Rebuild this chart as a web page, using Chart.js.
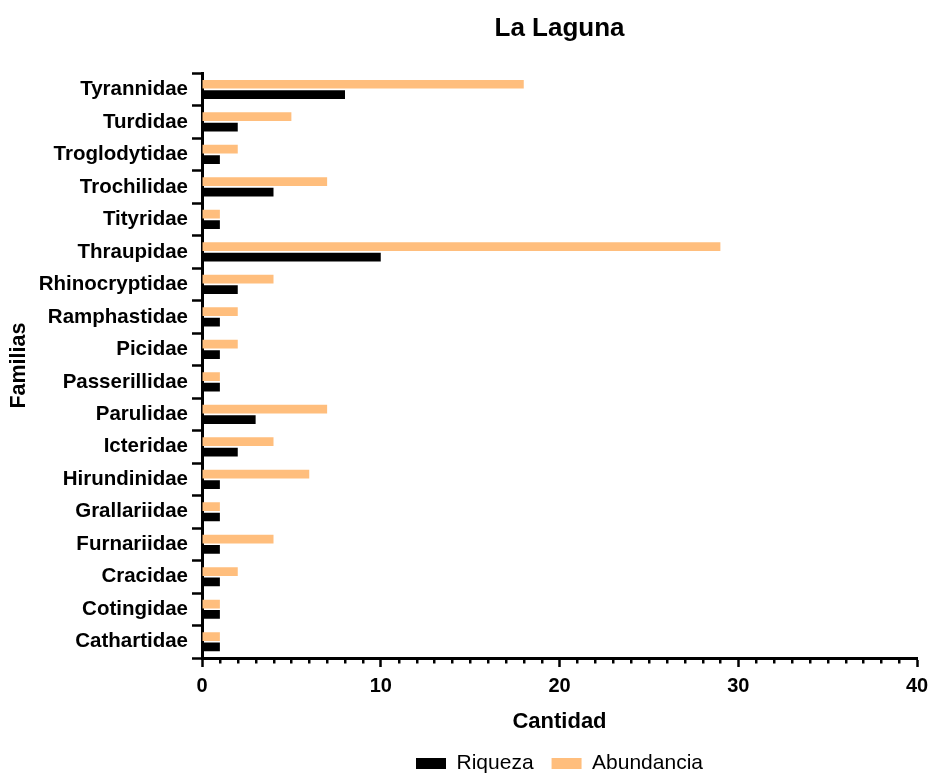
<!DOCTYPE html>
<html>
<head>
<meta charset="utf-8">
<script src="https://cdn.jsdelivr.net/npm/chart.js@4.4.1/dist/chart.umd.min.js"></script>
<style>
  html, body { margin: 0; padding: 0; background: #ffffff; }
  #wrap { width: 930px; height: 776px; }
</style>
</head>
<body>
<div id="wrap"><canvas id="c" width="930" height="776"></canvas></div>
<script>
const families = ["Tyrannidae", "Turdidae", "Troglodytidae", "Trochilidae", "Tityridae", "Thraupidae",
  "Rhinocryptidae", "Ramphastidae", "Picidae", "Passerillidae", "Parulidae", "Icteridae",
  "Hirundinidae", "Grallariidae", "Furnariidae", "Cracidae", "Cotingidae", "Cathartidae"];
const abundancia = [18, 5, 2, 7, 1, 29, 4, 2, 2, 1, 7, 4, 6, 1, 4, 2, 1, 1];
const riqueza    = [8, 2, 1, 4, 1, 10, 2, 1, 1, 1, 3, 2, 1, 1, 1, 1, 1, 1];
const xMin = 0, xMax = 40, xMajorStep = 10, xMinorStep = 1;

const FONT = "'Liberation Sans', Arial, Helvetica, sans-serif";

const minorTicks = {
  id: 'minorTicks',
  afterDraw(chart) {
    const s = chart.scales.x;
    const ctx = chart.ctx;
    ctx.save();
    ctx.strokeStyle = '#000';
    ctx.lineWidth = 2.5;
    for (let v = s.min; v <= s.max; v += xMinorStep) {
      if (v % xMajorStep === 0) continue;
      const px = Math.round(s.getPixelForValue(v)) + 0.25;
      ctx.beginPath();
      ctx.moveTo(px, s.top);
      ctx.lineTo(px, s.top + 5.5);
      ctx.stroke();
    }
    ctx.restore();
  }
};

new Chart(document.getElementById('c'), {
  type: 'bar',
  data: {
    labels: families,
    datasets: [
      { label: 'Abundancia', data: abundancia, backgroundColor: '#FFBE7D', borderWidth: 0,
        categoryPercentage: 0.64, barPercentage: 0.84 },
      { label: 'Riqueza', data: riqueza, backgroundColor: '#000000', borderWidth: 0,
        categoryPercentage: 0.64, barPercentage: 0.84 }
    ]
  },
  options: {
    indexAxis: 'y',
    responsive: false,
    animation: false,
    layout: { padding: { left: 0, right: 13, top: 0, bottom: -8 } },
    plugins: {
      tooltip: { enabled: false },
      title: {
        display: true,
        text: 'La Laguna',
        fullSize: false,
        color: '#000',
        font: { family: FONT, size: 26, weight: 'bold' },
        padding: { top: 13, bottom: 29 }
      },
      legend: {
        position: 'bottom',
        fullSize: false,
        reverse: true,
        labels: {
          color: '#000',
          boxWidth: 30,
          boxHeight: 11,
          padding: 18,
          font: { family: FONT, size: 21, weight: 'normal' }
        }
      }
    },
    scales: {
      x: {
        type: 'linear',
        min: xMin,
        max: xMax,
        afterFit(scale) { scale.height = 77; scale.paddingLeft = 0; scale.paddingRight = 0; },
        border: { display: true, color: '#000', width: 3 },
        grid: {
          drawOnChartArea: false,
          drawTicks: true,
          tickLength: 9,
          tickWidth: 2.5,
          tickColor: (ctx) => (ctx.tick && ctx.tick.value % xMajorStep === 0) ? '#000' : 'rgba(0,0,0,0)'
        },
        ticks: {
          stepSize: xMinorStep,
          autoSkip: false,
          maxRotation: 0,
          padding: 7,
          color: '#000',
          font: { family: FONT, size: 20, weight: 'bold' },
          callback: (v) => (v % xMajorStep === 0 ? String(v) : '')
        },
        title: {
          display: true,
          text: 'Cantidad',
          color: '#000',
          font: { family: FONT, size: 22, weight: 'bold' },
          padding: { top: 0, bottom: 0 }
        }
      },
      y: {
        type: 'category',
        afterFit(scale) { scale.width = 202; },
        border: { display: true, color: '#000', width: 3 },
        grid: {
          drawOnChartArea: false,
          drawTicks: true,
          tickLength: 10,
          tickWidth: 2.5,
          tickColor: '#000'
        },
        ticks: {
          autoSkip: false,
          padding: 4,
          color: '#000',
          font: { family: FONT, size: 20.5, weight: 'bold' }
        },
        title: {
          display: true,
          text: 'Familias',
          color: '#000',
          font: { family: FONT, size: 21.5, weight: 'bold' },
          padding: { top: 6, bottom: 4 }
        }
      }
    }
  },
  plugins: [minorTicks]
});
</script>
</body>
</html>
